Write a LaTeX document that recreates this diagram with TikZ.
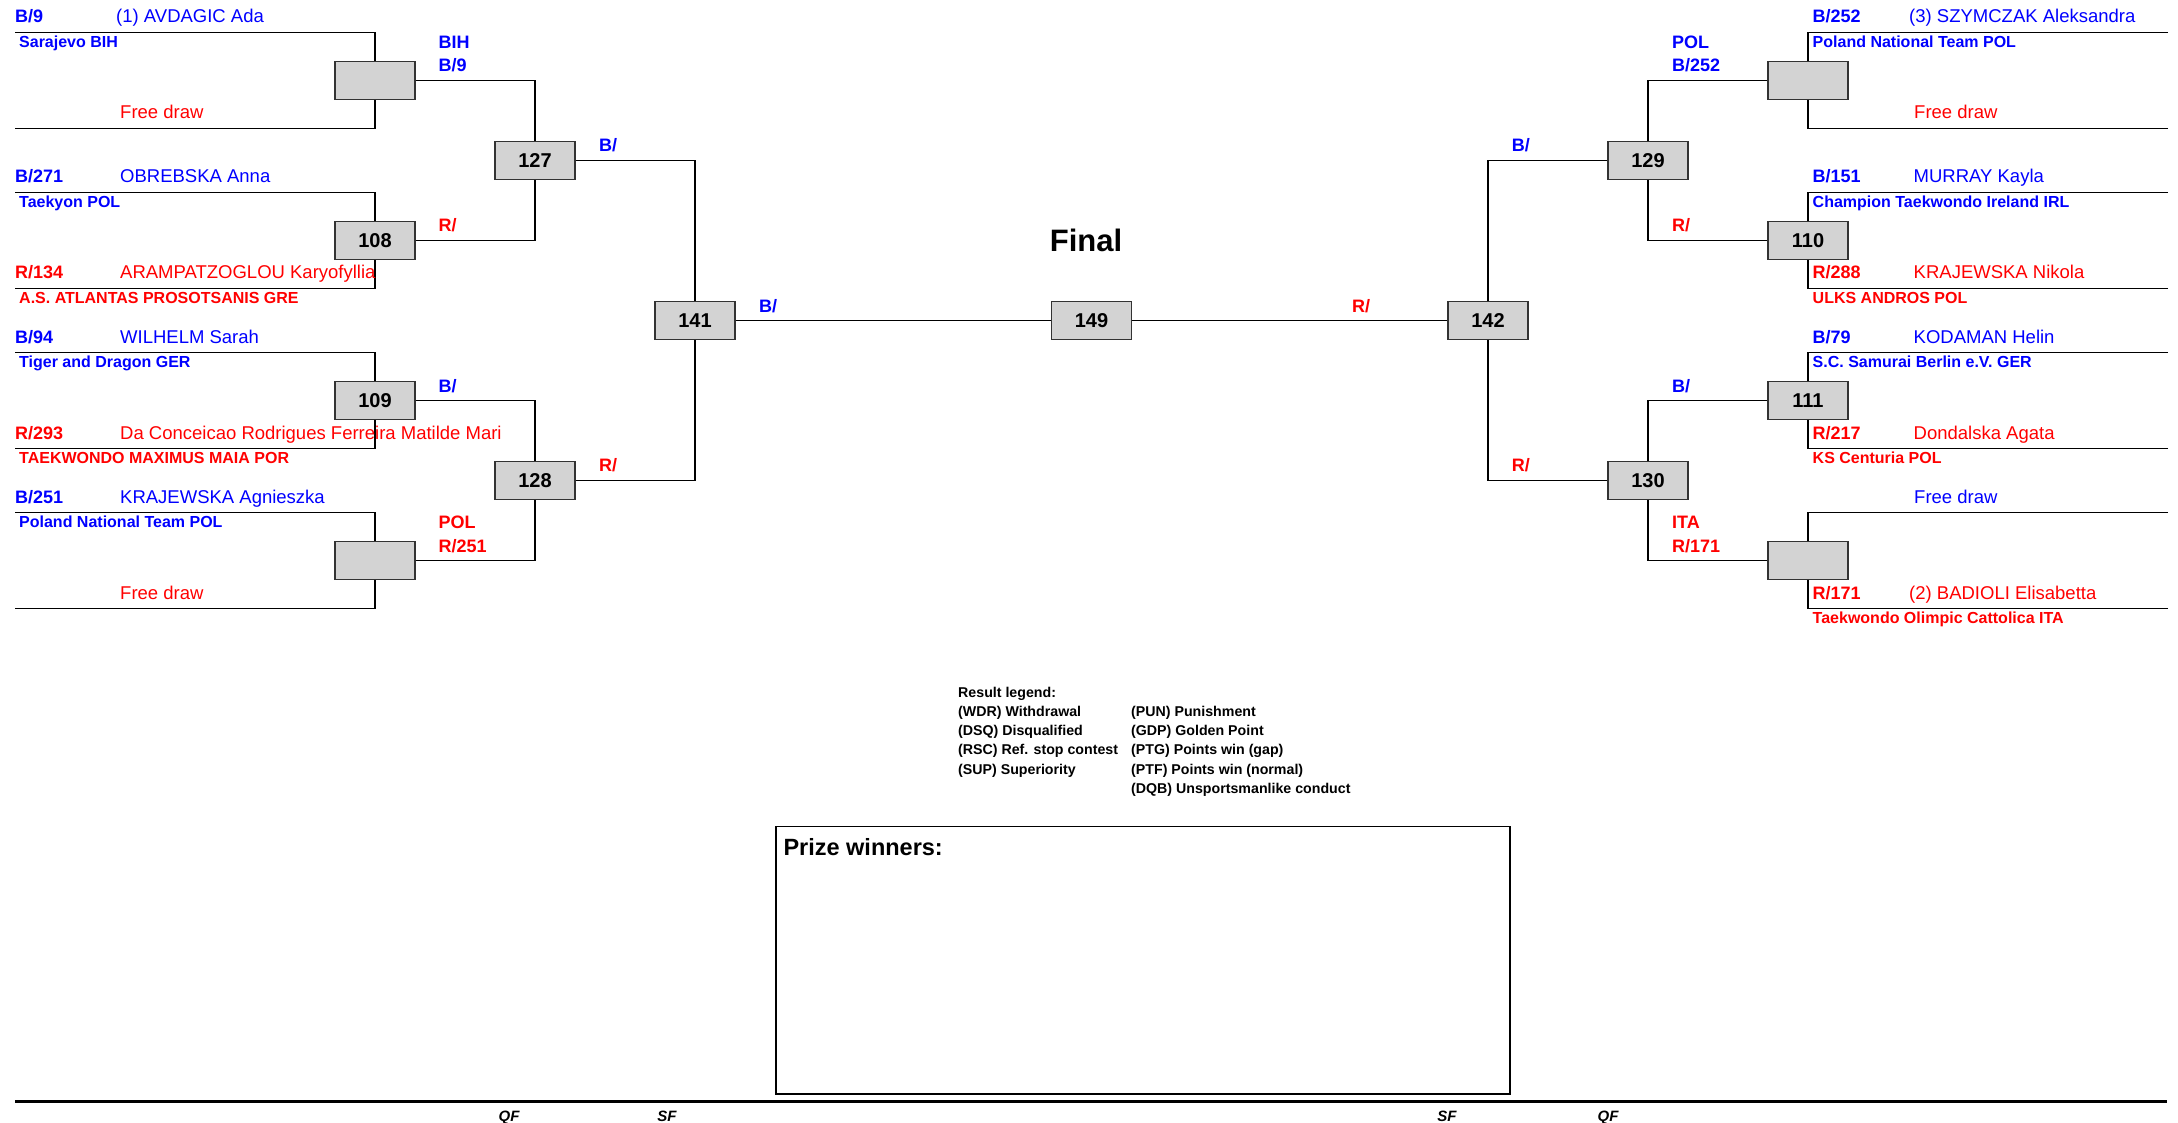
\documentclass[tikz,border=0pt]{standalone}
\usepackage{fontspec}
\setmainfont{Liberation Sans}
\definecolor{boxgray}{RGB}{211,211,211}
\definecolor{bl}{RGB}{0,0,255}
\definecolor{rd}{RGB}{255,0,0}
\begin{document}
\begin{tikzpicture}[x=1pt,y=-1pt,
  mbox/.style={draw=black!80, fill=boxgray, line width=1.4pt, minimum width=80pt, minimum height=37.6pt, inner sep=0pt, font=\fontsize{20}{20}\selectfont\bfseries},
  wire/.style={line width=1.15pt},
  num/.style={anchor=base west, inner sep=0pt, font=\fontsize{18}{18}\selectfont\bfseries},
  nm/.style={anchor=base west, inner sep=0pt, font=\fontsize{18.5}{18.5}\selectfont},
  club/.style={anchor=base west, inner sep=0pt, font=\fontsize{16}{16}\selectfont\bfseries},
  wl/.style={anchor=base west, inner sep=0pt, font=\fontsize{18}{18}\selectfont\bfseries},
  leg/.style={anchor=base west, inner sep=0pt, font=\fontsize{14.2}{14.2}\selectfont\bfseries},
  rnd/.style={anchor=base, inner sep=0pt, font=\fontsize{15}{15}\selectfont\bfseries\itshape},
]
\useasboundingbox (0,0) rectangle (2178,1123);
\fill[white] (0,0) rectangle (2178,1123);

% boxes
\node[mbox] (qL1) at (375,80.5) {};
\node[mbox] (m108) at (375,240.5) {108};
\node[mbox] (m109) at (375,400.5) {109};
\node[mbox] (qL4) at (375,560.5) {};
\node[mbox] (m127) at (535,160.5) {127};
\node[mbox] (m128) at (535,480.5) {128};
\node[mbox] (m141) at (695,320.5) {141};
\node[mbox] (m149) at (1091.5,320.5) {149};
\node[mbox] (m142) at (1488,320.5) {142};
\node[mbox] (m129) at (1648,160.5) {129};
\node[mbox] (m130) at (1648,480.5) {130};
\node[mbox] (qR1) at (1808,80.5) {};
\node[mbox] (m110) at (1808,240.5) {110};
\node[mbox] (m111) at (1808,400.5) {111};
\node[mbox] (qR4) at (1808,560.5) {};

% entry lines
\foreach \n/\c in {qL1/80.5, m108/240.5, m109/400.5, qL4/560.5} {
  \coordinate (\n-a) at (15,\c-48);
  \coordinate (\n-b) at (15,\c+48);
  \draw[wire] (\n-a) -| (\n.north);
  \draw[wire] (\n-b) -| (\n.south);
}
\foreach \n/\c in {qR1/80.5, m110/240.5, m111/400.5, qR4/560.5} {
  \coordinate (\n-a) at (2168,\c-48);
  \coordinate (\n-b) at (2168,\c+48);
  \draw[wire] (\n-a) -| (\n.north);
  \draw[wire] (\n-b) -| (\n.south);
}

% connectors
\draw[wire] (qL1.east) -| (m127.north);
\draw[wire] (m108.east) -| (m127.south);
\draw[wire] (m109.east) -| (m128.north);
\draw[wire] (qL4.east) -| (m128.south);
\draw[wire] (m127.east) -| (m141.north);
\draw[wire] (m128.east) -| (m141.south);
\draw[wire] (m141.east) -- (m149.west);
\draw[wire] (m149.east) -- (m142.west);
\draw[wire] (m129.west) -| (m142.north);
\draw[wire] (m130.west) -| (m142.south);
\draw[wire] (qR1.west) -| (m129.north);
\draw[wire] (m110.west) -| (m129.south);
\draw[wire] (m111.west) -| (m130.north);
\draw[wire] (qR4.west) -| (m130.south);

% left competitors
\node[num,bl] (l1n) at (15,23) {B/9};
\node[nm,bl] (l1m) at (116,23) {(1) AVDAGIC Ada};
\node[club,bl] (l1c) at (19,47.5) {Sarajevo BIH};
\node[nm,rd] (l2m) at (120,119) {Free draw};

\node[num,bl] (l3n) at (15,183) {B/271};
\node[nm,bl] (l3m) at (120,183) {OBREBSKA Anna};
\node[club,bl] (l3c) at (19,207.5) {Taekyon POL};
\node[num,rd] (l4n) at (15,279) {R/134};
\node[nm,rd] (l4m) at (120,279) {ARAMPATZOGLOU Karyofyllia};
\node[club,rd] (l4c) at (19,303.5) {A.S. ATLANTAS PROSOTSANIS GRE};

\node[num,bl] (l5n) at (15,343) {B/94};
\node[nm,bl] (l5m) at (120,343) {WILHELM Sarah};
\node[club,bl] (l5c) at (19,367.5) {Tiger and Dragon GER};
\node[num,rd] (l6n) at (15,439) {R/293};
\begin{scope}
\clip (100,420) rectangle (501,450);
\node[nm,rd] (l6m) at (120,439) {Da Conceicao Rodrigues Ferreira Matilde Mari};
\end{scope}
\node[club,rd] (l6c) at (19,463.5) {TAEKWONDO MAXIMUS MAIA POR};

\node[num,bl] (l7n) at (15,503) {B/251};
\node[nm,bl] (l7m) at (120,503) {KRAJEWSKA Agnieszka};
\node[club,bl] (l7c) at (19,527.5) {Poland National Team POL};
\node[nm,rd] (l8m) at (120,599) {Free draw};

% right competitors
\node[num,bl] (r1n) at (1812.5,23) {B/252};
\node[nm,bl] (r1m) at (1909,23) {(3) SZYMCZAK Aleksandra};
\node[club,bl] (r1c) at (1812.5,47.5) {Poland National Team POL};
\node[nm,rd] (r2m) at (1914,119) {Free draw};

\node[num,bl] (r3n) at (1812.5,183) {B/151};
\node[nm,bl] (r3m) at (1913.5,183) {MURRAY Kayla};
\node[club,bl] (r3c) at (1812.5,207.5) {Champion Taekwondo Ireland IRL};
\node[num,rd] (r4n) at (1812.5,279) {R/288};
\node[nm,rd] (r4m) at (1913.5,279) {KRAJEWSKA Nikola};
\node[club,rd] (r4c) at (1812.5,303.5) {ULKS ANDROS POL};

\node[num,bl] (r5n) at (1812.5,343) {B/79};
\node[nm,bl] (r5m) at (1913.5,343) {KODAMAN Helin};
\node[club,bl] (r5c) at (1812.5,367.5) {S.C. Samurai Berlin e.V. GER};
\node[num,rd] (r6n) at (1812.5,439) {R/217};
\node[nm,rd] (r6m) at (1913.5,439) {Dondalska Agata};
\node[club,rd] (r6c) at (1812.5,463.5) {KS Centuria POL};

\node[nm,bl] (r7m) at (1914,503) {Free draw};
\node[num,rd] (r8n) at (1812.5,599) {R/171};
\node[nm,rd] (r8m) at (1909,599) {(2) BADIOLI Elisabetta};
\node[club,rd] (r8c) at (1812.5,623.5) {Taekwondo Olimpic Cattolica ITA};

% winner labels left
\node[wl,bl] (w1a) at (438.5,49) {BIH};
\node[wl,bl] (w1b) at (438.5,72) {B/9};
\node[wl,rd] (w2) at (438.5,232) {R/};
\node[wl,bl] (w3) at (438.5,392) {B/};
\node[wl,rd] (w4a) at (438.5,528.5) {POL};
\node[wl,rd] (w4b) at (438.5,552) {R/251};
\node[wl,bl] (w5) at (599,151.5) {B/};
\node[wl,rd] (w6) at (599,471.5) {R/};
\node[wl,bl] (w7) at (759,312) {B/};
% winner labels right
\node[wl,bl] (v1a) at (1672,49) {POL};
\node[wl,bl] (v1b) at (1672,72) {B/252};
\node[wl,rd] (v2) at (1672,232) {R/};
\node[wl,bl] (v3) at (1672,392) {B/};
\node[wl,rd] (v4a) at (1672,528.5) {ITA};
\node[wl,rd] (v4b) at (1672,552) {R/171};
\node[wl,bl] (v5) at (1511.7,151.5) {B/};
\node[wl,rd] (v6) at (1511.7,471.5) {R/};
\node[wl,rd] (v7) at (1352,312) {R/};

% title
\node[anchor=base, inner sep=0pt, font=\fontsize{31}{31}\selectfont\bfseries] (final) at (1086,251.7) {Final};

% legend
\node[leg] (lg0) at (958,697.3) {Result legend:};
\node[leg] (lg1) at (958,716.5) {(WDR) Withdrawal};
\node[leg] (lg2) at (958,735.7) {(DSQ) Disqualified};
\node[leg] (lg3) at (958,754.9) {(RSC) Ref. stop contest};
\node[leg] (lg4) at (958,774.1) {(SUP) Superiority};
\node[leg] (lg5) at (1131,716.5) {(PUN) Punishment};
\node[leg] (lg6) at (1131,735.7) {(GDP) Golden Point};
\node[leg] (lg7) at (1131,754.9) {(PTG) Points win (gap)};
\node[leg] (lg8) at (1131,774.1) {(PTF) Points win (normal)};
\node[leg] (lg9) at (1131,793.3) {(DQB) Unsportsmanlike conduct};

% prize winners box
\node[draw, line width=1.4pt, minimum width=734pt, minimum height=267.3pt, inner sep=0pt] (prize) at (1143,960.4) {};
\node[anchor=base west, inner sep=0pt, font=\fontsize{23.5}{23.5}\selectfont\bfseries] (prizet) at (783.3,855.7) {Prize winners:};

% bottom rule and round labels
\coordinate (rulea) at (15,1101.5);
\coordinate (ruleb) at (2167,1101.5);
\draw[line width=2.5pt] (rulea) -- (ruleb);
\node[rnd] (qf1) at (509,1121) {QF};
\node[rnd] (sf1) at (667,1121) {SF};
\node[rnd] (sf2) at (1447,1121) {SF};
\node[rnd] (qf2) at (1608,1121) {QF};
\end{tikzpicture}
\end{document}
